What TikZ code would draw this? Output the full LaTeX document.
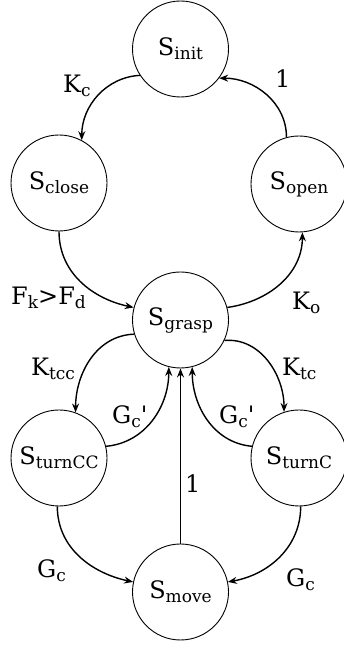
\documentclass[tikz,border=0pt]{standalone}
\usepackage{fontspec}
\setmainfont{DejaVu Serif}[Ligatures=TeXOff]
\usetikzlibrary{arrows.meta}
\newcommand\sbx[2]{#1\raisebox{-4pt}{\fontsize{17}{17}\selectfont #2}}
\begin{document}
\begin{tikzpicture}[x=1pt,y=1pt,
  state/.style={draw, circle, line width=0.9pt, minimum size=96pt, inner sep=0pt, font=\fontsize{24}{24}\selectfont},
  lab/.style={inner sep=0pt, anchor=base west, font=\fontsize{24}{24}\selectfont},
  tr/.style={line width=1.4pt, -{Stealth[length=9pt,width=7pt,inset=3pt]}}]
\useasboundingbox (0,0) rectangle (344,648);
\node[state] (init) at (180.5,599) {\sbx{S}{init}};
\node[state] (close) at (59,465) {\sbx{S}{close}};
\node[state] (open) at (299,464) {\sbx{S}{open}};
\node[state] (grasp) at (180.5,328) {\sbx{S}{grasp}};
\node[state] (turnCC) at (59,190) {\sbx{S}{turnCC}};
\node[state] (turnC) at (299,190) {\sbx{S}{turnC}};
\node[state] (move) at (180.5,56) {\sbx{S}{move}};

\draw[tr] (init.213) to[out=183,in=90] (close.62);
\draw[tr] (open.105) to[out=90,in=0] (init.-37);
\draw[tr] (close.-90) to[out=-90,in=168] (grasp.165);
\draw[tr] (grasp.15) to[out=8,in=-90] (open.-86);
\draw[tr] (grasp.197) to[out=182,in=90] (turnCC.70);
\draw[tr] (grasp.-25) to[out=5,in=90] (turnC.108);
\draw[tr] (turnCC.14) to[out=5,in=-90] (grasp.-104);
\draw[tr] (turnC.166) to[out=175,in=-90] (grasp.-76);
\draw[tr] (move.north) -- (grasp.south);
\draw[tr] (turnCC.-92) to[out=-90,in=168] (move.168);
\draw[tr] (turnC.-88) to[out=-90,in=10] (move.12);

\node[lab] (lKc) at (63,555) {\sbx{K}{c}};
\node[lab] (l1a) at (275,560) {1};
\node[lab] (lF) at (11,343) {\sbx{F}{k}>\sbx{F}{d}};
\node[lab] (lKo) at (292,338) {\sbx{K}{o}};
\node[lab] (lKtcc) at (31,272) {\sbx{K}{tcc}};
\node[lab] (lKtc) at (282,272) {\sbx{K}{tc}};
\node[lab] (lGl) at (112,224) {\sbx{G}{c}'};
\node[lab] (lGr) at (219,224) {\sbx{G}{c}'};
\node[lab] (l1b) at (185,155) {1};
\node[lab] (lGcl) at (37,70) {\sbx{G}{c}};
\node[lab] (lGcr) at (286,61) {\sbx{G}{c}};
\end{tikzpicture}
\end{document}
